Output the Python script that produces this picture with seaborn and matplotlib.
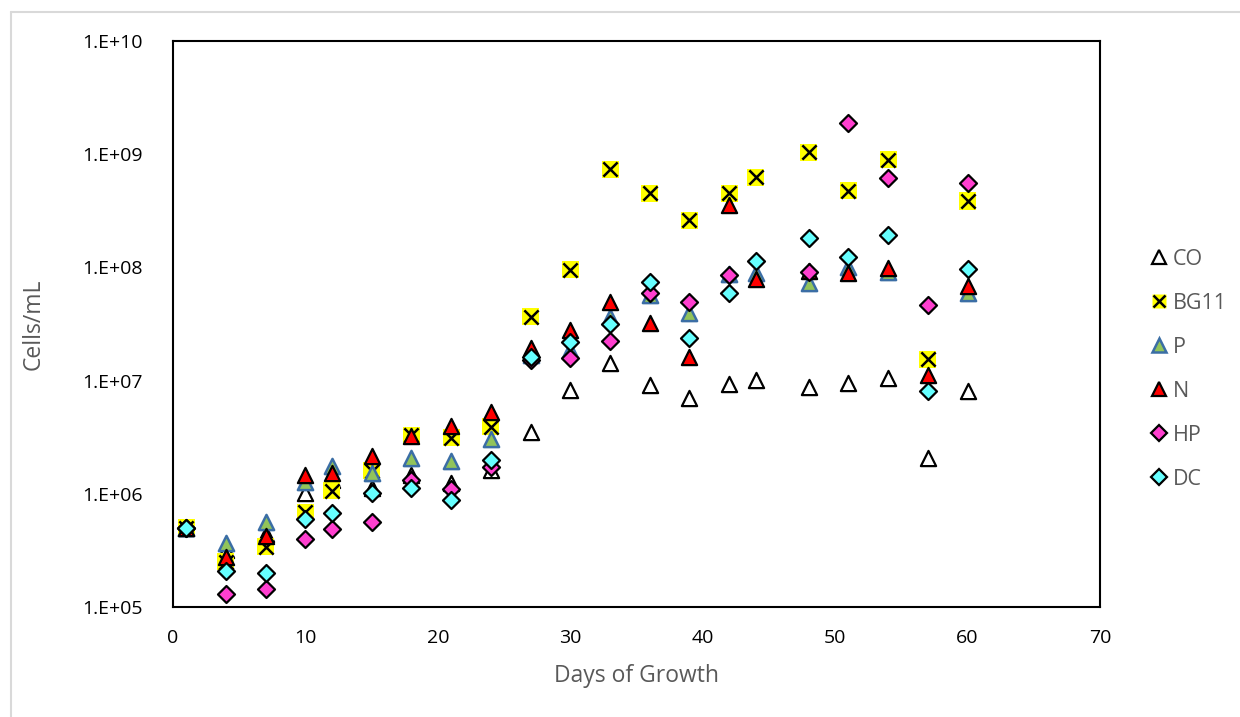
import numpy as np
import pandas as pd
import matplotlib
matplotlib.use("Agg")
import matplotlib.pyplot as plt
import seaborn as sns
from matplotlib.lines import Line2D
from matplotlib.legend_handler import HandlerTuple
from matplotlib.ticker import FixedLocator, FuncFormatter, NullLocator

nan = np.nan
days = [1, 4, 7, 10, 12, 15, 18, 21, 24, 27, 30, 33, 36, 39, 42, 44, 48, 51, 54, 57, 60]
co = [5.0e5, 3.2e5, 4.4e5, 1.02e6, 1.32e6, 1.12e6, 1.47e6, 1.24e6, 1.62e6, 3.54e6, 8.26e6,
      1.44e7, 9.15e6, 6.98e6, 9.33e6, 1.01e7, 8.73e6, 9.46e6, 1.06e7, 2.06e6, 8.15e6]
bg11 = [5.0e5, 2.5e5, 3.41e5, 6.87e5, 1.06e6, 1.60e6, 3.3e6, 3.13e6, 3.92e6, 3.67e7, 9.49e7,
        7.36e8, 4.51e8, 2.62e8, 4.51e8, 6.25e8, 1.04e9, 4.76e8, 8.89e8, 1.55e7, 3.86e8]
p = [5.0e5, 3.66e5, 5.67e5, 1.28e6, 1.76e6, 1.52e6, 2.06e6, 1.96e6, 3.03e6, 1.7e7, 1.86e7,
     3.67e7, 5.7e7, 3.98e7, 8.8e7, 8.87e7, 7.33e7, 1.01e8, 9.1e7, nan, 5.9e7]
n = [5.0e5, 2.78e5, 4.24e5, 1.47e6, 1.54e6, 2.16e6, 3.24e6, 3.97e6, 5.31e6, 1.93e7, 2.80e7,
     4.98e7, 3.25e7, 1.61e7, 3.56e8, 7.9e7, 9.3e7, 8.87e7, 9.82e7, 1.12e7, 6.89e7]
hp = [5.0e5, 1.30e5, 1.44e5, 3.96e5, 4.89e5, 5.6e5, 1.32e6, 1.10e6, 1.71e6, 1.52e7, 1.59e7,
      2.25e7, 5.98e7, 4.98e7, 8.57e7, nan, 9.05e7, 1.90e9, 6.12e8, 4.65e7, 5.53e8]
dc = [5.0e5, 2.09e5, 1.99e5, 5.99e5, 6.73e5, 1.01e6, 1.12e6, 8.9e5, 1.99e6, 1.61e7, 2.21e7,
      3.16e7, 7.48e7, 2.36e7, 5.98e7, 1.14e8, 1.83e8, 1.24e8, 1.93e8, 8.09e6, 9.62e7]

series_names = ["CO", "BG11", "P", "N", "HP", "DC"]
series_vals = [co, bg11, p, n, hp, dc]
y_ticks = [1e5, 1e6, 1e7, 1e8, 1e9, 1e10]
x_ticks = [0, 10, 20, 30, 40, 50, 60, 70]

df = pd.DataFrame({"day": days})
for name, vals in zip(series_names, series_vals):
    df[name] = vals

sns.set_theme(style="white")
plt.rcParams["font.family"] = ["Open Sans", "DejaVu Sans"]

fig = plt.figure(figsize=(12.4, 7.17), dpi=100)
ax = fig.add_axes([173 / 1240, 1 - 607 / 717, (1100 - 173) / 1240, (607 - 41) / 717])

S = 120
styles = {
    "CO": dict(marker="^", color="white", edgecolor="black", linewidth=1.6, s=S),
    "P": dict(marker="^", color="#92C45A", edgecolor="#3B6EA5", linewidth=1.8, s=S),
    "N": dict(marker="^", color="#FF0000", edgecolor="black", linewidth=1.6, s=S),
    "HP": dict(marker="D", color="#FF3FCF", edgecolor="black", linewidth=1.6, s=75),
    "DC": dict(marker="D", color="#66FFFF", edgecolor="black", linewidth=1.6, s=75),
}

for name in series_names:
    if name == "BG11":
        sns.scatterplot(data=df, x="day", y=name, ax=ax, marker="s", color="#FFFF00",
                        edgecolor="none", linewidth=0, s=150, zorder=3)
        sns.scatterplot(data=df, x="day", y=name, ax=ax, marker="x", color="black",
                        linewidth=1.8, s=105, zorder=3)
    else:
        sns.scatterplot(data=df, x="day", y=name, ax=ax, zorder=3, **styles[name])

ax.set_yscale("log")
ax.set_xlim(0, 70)
ax.set_ylim(1e5, 1e10)
ax.yaxis.set_major_locator(FixedLocator(y_ticks))
ax.yaxis.set_minor_locator(NullLocator())
ax.yaxis.set_major_formatter(FuncFormatter(lambda v, _: f"1.E+{int(round(np.log10(v))):02d}"))
ax.set_xticks(x_ticks)
ax.tick_params(axis="both", length=0, labelsize=14, colors="black")
ax.tick_params(axis="y", pad=22)
ax.tick_params(axis="x", pad=16)
for sp in ax.spines.values():
    sp.set_visible(True)
    sp.set_color("black")
    sp.set_linewidth(1.5)
ax.grid(False)
ax.set_xlabel("Days of Growth", fontsize=16.5, color="#595959", labelpad=12)
ax.set_ylabel("Cells/mL", fontsize=16.5, color="#595959", labelpad=26)

# legend
h_co = Line2D([], [], linestyle="none", marker="^", markerfacecolor="white",
              markeredgecolor="black", markeredgewidth=1.6, markersize=10)
h_bg_s = Line2D([], [], linestyle="none", marker="s", markerfacecolor="#FFFF00",
                markeredgecolor="none", markersize=10)
h_bg_x = Line2D([], [], linestyle="none", marker="x", markeredgecolor="black",
                markeredgewidth=1.8, markersize=8.5)
h_p = Line2D([], [], linestyle="none", marker="^", markerfacecolor="#92C45A",
             markeredgecolor="#3B6EA5", markeredgewidth=1.8, markersize=10)
h_n = Line2D([], [], linestyle="none", marker="^", markerfacecolor="#FF0000",
             markeredgecolor="black", markeredgewidth=1.6, markersize=10)
h_hp = Line2D([], [], linestyle="none", marker="D", markerfacecolor="#FF3FCF",
              markeredgecolor="black", markeredgewidth=1.6, markersize=8)
h_dc = Line2D([], [], linestyle="none", marker="D", markerfacecolor="#66FFFF",
              markeredgecolor="black", markeredgewidth=1.6, markersize=8)
leg = fig.legend([h_co, (h_bg_s, h_bg_x), h_p, h_n, h_hp, h_dc], series_names,
                 handler_map={tuple: HandlerTuple(ndivide=1)},
                 loc="upper left", bbox_to_anchor=(1142 / 1240, 1 - 240 / 717),
                 frameon=False, fontsize=15.5, labelspacing=1.07, handlelength=0.8,
                 handletextpad=0.25, borderaxespad=0)
for t in leg.get_texts():
    t.set_color("#595959")

# chart-area border (light gray)
fig.add_artist(Line2D([11 / 1240, 11 / 1240], [0, 1 - 12 / 717], transform=fig.transFigure,
                      color="#D9D9D9", linewidth=1.5))
fig.add_artist(Line2D([11 / 1240, 1], [1 - 12 / 717, 1 - 12 / 717], transform=fig.transFigure,
                      color="#D9D9D9", linewidth=1.5))

fig.savefig("out.png", dpi=100)
